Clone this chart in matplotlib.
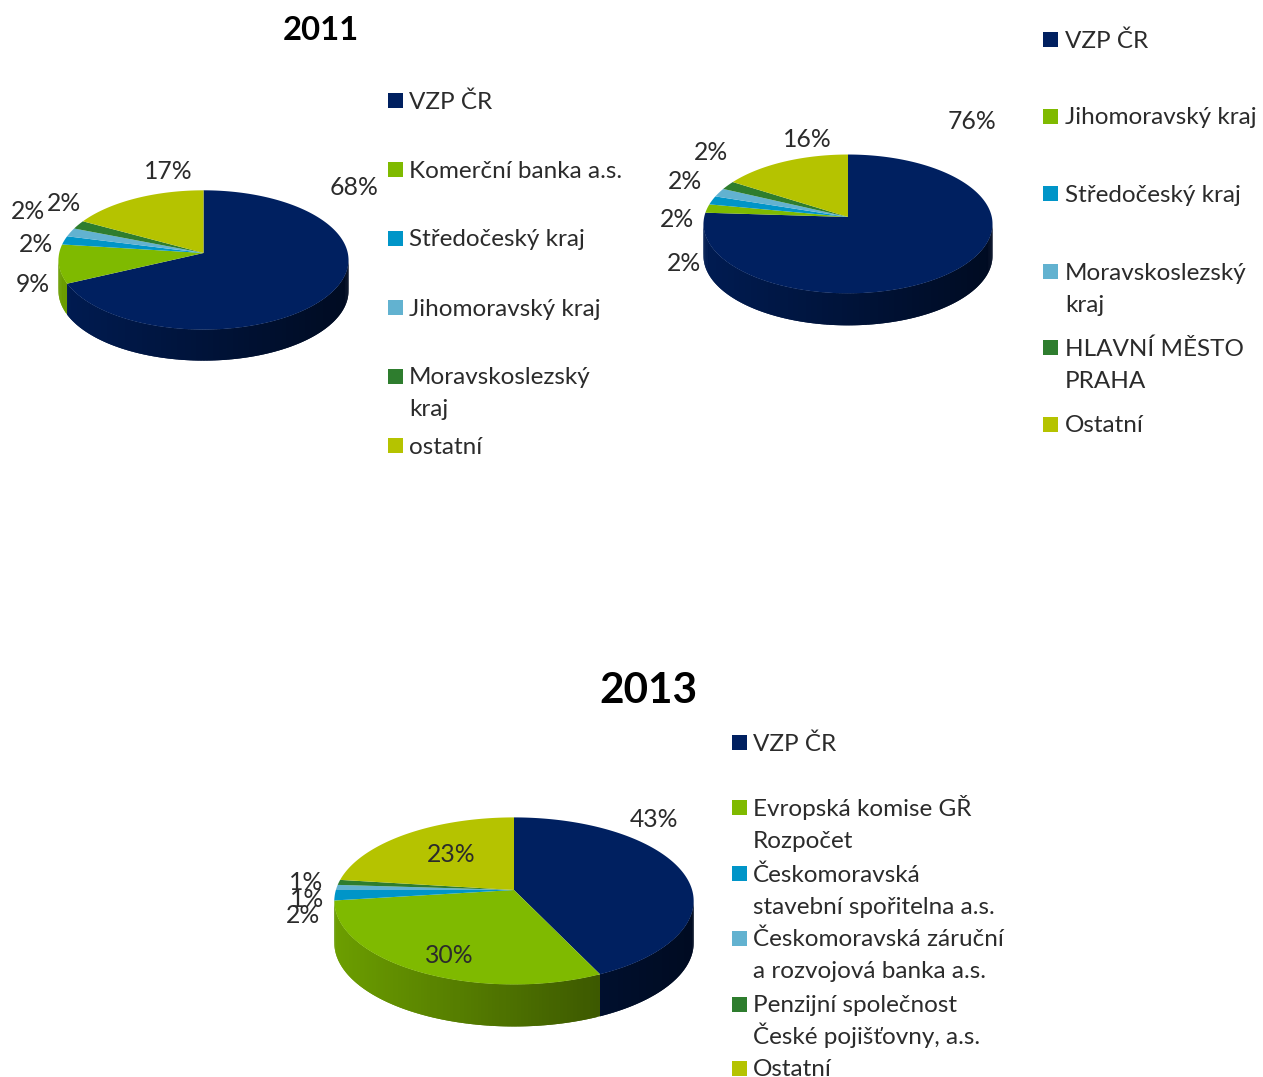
import numpy as np
import matplotlib
matplotlib.use("Agg")
import matplotlib.pyplot as plt
from matplotlib.path import Path
from matplotlib.patches import Rectangle
from matplotlib.transforms import Transform

# ---------- data ----------
values_2011 = [68, 9, 2, 2, 2, 17]
values_2012 = [76, 2, 2, 2, 2, 16]
values_2013 = [43, 30, 2, 1, 1, 23]

legend_2011 = ["VZP ČR", "Komerční banka a.s.", "Středočeský kraj", "Jihomoravský kraj",
               "Moravskoslezský\nkraj", "ostatní"]
legend_2012 = ["VZP ČR", "Jihomoravský kraj", "Středočeský kraj", "Moravskoslezský\nkraj",
               "HLAVNÍ MĚSTO\nPRAHA", "Ostatní"]
legend_2013 = ["VZP ČR", "Evropská komise GŘ\nRozpočet", "Českomoravská\nstavební spořitelna a.s.",
               "Českomoravská záruční\na rozvojová banka a.s.", "Penzijní společnost\nČeské pojišťovny, a.s.",
               "Ostatní"]

title_2011 = "2011"
title_2013 = "2013"

# ---------- style and layout ----------
W, H = 1263, 1077
COLORS = ["#002060", "#7FBA00", "#0095C8", "#62B2D0", "#2E7D2E", "#B5C300"]
TEXT = "#2b2b2b"
plt.rcParams["font.family"] = ["Lato", "DejaVu Sans"]
FS = 17.5
FS_LABEL = 17.8
LINE_GAP = 32

# apex x, apex y, half width, perspective b, vertical scale s, depth (pixels)
PIES = [
    (values_2011, 203.5, 253, 145, 0.10, 0.478, 31),
    (values_2012, 848, 217, 144.5, 0.10, 0.478, 32),
    (values_2013, 514, 890, 179, 0.131, 0.461, 42),
]
LABEL_POS = [
    [(354, 185), (33, 282), (36, 242), (28, 209), (64, 201), (168, 169)],
    [(972, 119), (684, 261), (677, 217), (685, 179), (711, 150), (807, 137)],
    [(654, 817), (449, 953), (303, 913), (307, 897), (306, 880), (451, 852)],
]
LEGENDS = [
    (legend_2011, 388, 409, [100.7, 169, 238, 307, 376, 445]),
    (legend_2012, 1043, 1065, [39, 116, 193, 271, 347, 424]),
    (legend_2013, 732, 753, [742.7, 807.7, 873, 938, 1004, 1068]),
]


class Perspective(Transform):
    """Tilted-disc projection used for the top face of each pie."""
    input_dims = output_dims = 2
    is_separable = False
    has_inverse = False

    def __init__(self, b, s):
        super().__init__()
        self.b, self.s = b, s

    def transform_non_affine(self, xy):
        xy = np.asarray(xy, float)
        d = 1 + self.b * xy[:, 1]
        return np.column_stack([xy[:, 0] / d, self.s * xy[:, 1] / d])

    def transform_path_non_affine(self, path):
        pts = []
        for curve, code in path.iter_bezier():
            if code == Path.MOVETO:
                pts.append(curve.control_points[0])
            else:
                for t in np.linspace(0, 1, 40)[1:]:
                    pts.append(curve(t))
        pts = np.array(pts)
        return Path(self.transform_non_affine(pts))


def hex_rgb(c):
    return np.array(matplotlib.colors.to_rgb(c))


fig = plt.figure(figsize=(W / 100, H / 100), dpi=100, facecolor="white")

for vals, cx, cy, rx, b, s, depth in PIES:
    R = rx / 1.005
    half = 1.35
    size = 2 * half * R
    ax = fig.add_axes([(cx - size / 2) / W, 1 - (cy + size / 2) / H, size / W, size / H])
    wedges, _ = ax.pie(vals, colors=COLORS, startangle=90, counterclock=False, radius=1,
                       wedgeprops=dict(linewidth=0))
    ax.set_aspect("auto")
    ax.set_xlim(-half, half)
    ax.set_ylim(-half, half)
    ax.axis("off")
    persp = Perspective(b, s)
    for w in wedges:
        w.set_transform(persp + ax.transData)
        w.set_zorder(3)
    # side wall, built slice by slice from the same values; only the outward facing part
    edges = 90 - np.cumsum([0] + list(vals)) * 3.6
    for i, col in enumerate(COLORS):
        n = max(3, int(abs(edges[i] - edges[i + 1]) / 1.0))
        th = np.radians(np.linspace(edges[i], edges[i + 1], n))
        rim = persp.transform_non_affine(np.column_stack([np.cos(th), np.sin(th)]))
        base = hex_rgb(col)
        for j in range(n - 1):
            if np.sin(th[j]) > -b + 0.02 and np.sin(th[j + 1]) > -b + 0.02:
                continue
            k = min(j + 2, n - 1)   # each strip overlaps the next, so no seams show
            xs = [rim[j, 0], rim[k, 0], rim[k, 0], rim[j, 0]]
            ys = [rim[j, 1], rim[k, 1], rim[k, 1] - depth / R, rim[j, 1] - depth / R]
            shade = 0.85 - 0.5 * (rim[j, 0] + 1) / 2
            ax.fill(xs, ys, color=tuple(base * shade), lw=0, zorder=2 + j * 1e-4)

# overlay in image pixels for labels and legends
ov = fig.add_axes([0, 0, 1, 1], facecolor="none")
ov.set_xlim(0, W)
ov.set_ylim(H, 0)
ov.axis("off")

for (vals, *_), positions in zip(PIES, LABEL_POS):
    for v, (x, y) in zip(vals, positions):
        ov.text(x, y + 2.5, f"{v}%", ha="center", va="center", fontsize=FS_LABEL, color=TEXT)

for entries, sq_x, tx, ys in LEGENDS:
    for name, col, y in zip(entries, COLORS, ys):
        ov.add_patch(Rectangle((sq_x, y - 7.5), 15, 15, facecolor=col, edgecolor="none"))
        for k, line in enumerate(name.split("\n")):
            ov.text(tx, y + 8.5 + k * LINE_GAP, line, ha="left", va="baseline", fontsize=FS, color=TEXT)

ov.text(321, 31, title_2011, ha="center", va="center", fontsize=23.7, fontweight="bold", color="black")
ov.text(648, 691, title_2013, ha="center", va="center", fontsize=30.4, fontweight="bold", color="black")

fig.savefig("out.png", dpi=100)
